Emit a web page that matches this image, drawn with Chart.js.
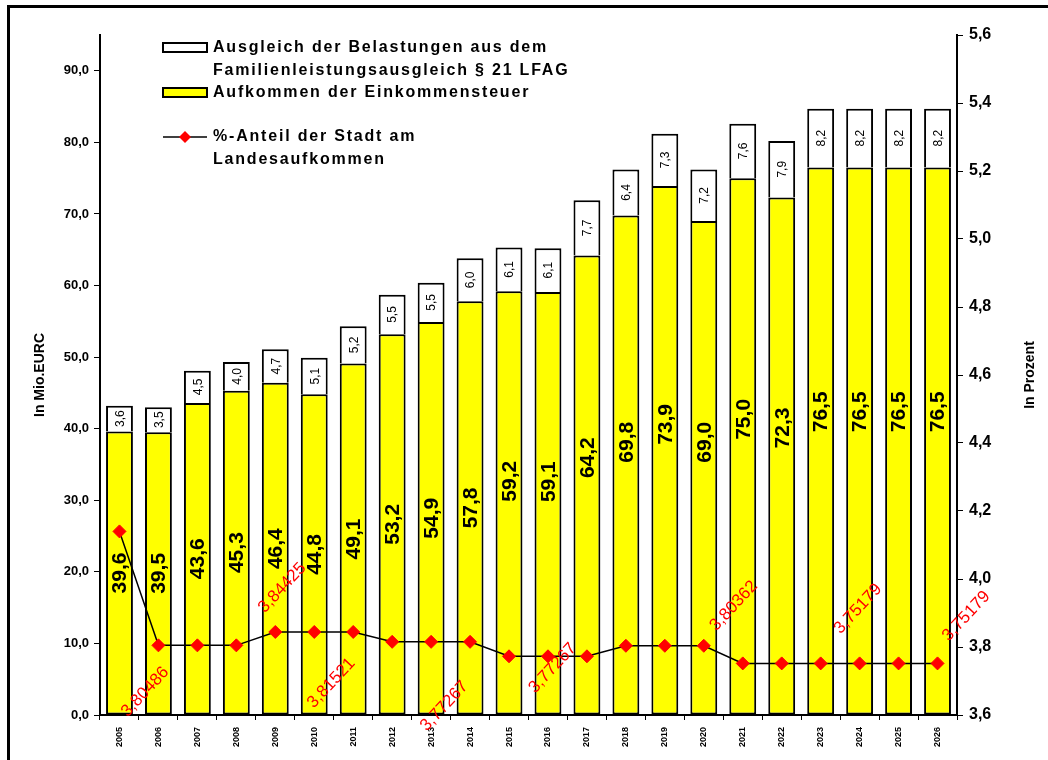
<!DOCTYPE html>
<html>
<head>
<meta charset="utf-8">
<script src="https://cdn.jsdelivr.net/npm/chart.js@4.4.0/dist/chart.umd.min.js"></script>
<style>
html,body{margin:0;padding:0;background:#fff;}
#wrap{width:1048px;height:760px;position:relative;}
</style>
</head>
<body>
<div id="wrap"><canvas id="c" width="1048" height="760"></canvas></div>
<script>
// ---- data ----
const years = ['2005','2006','2007','2008','2009','2010','2011','2012','2013','2014','2015',
               '2016','2017','2018','2019','2020','2021','2022','2023','2024','2025','2026'];
const einkommensteuer = [39.6,39.5,43.6,45.3,46.4,44.8,49.1,53.2,54.9,57.8,59.2,
                         59.1,64.2,69.8,73.9,69.0,75.0,72.3,76.5,76.5,76.5,76.5];
const ausgleich = [3.6,3.5,4.5,4.0,4.7,5.1,5.2,5.5,5.5,6.0,6.1,
                   6.1,7.7,6.4,7.3,7.2,7.6,7.9,8.2,8.2,8.2,8.2];
const anteilProzent = [4.14,3.80486,3.80486,3.80486,3.84425,3.84425,3.84425,3.81521,3.81521,3.81521,3.77267,
                       3.77267,3.77267,3.80362,3.80362,3.80362,3.75179,3.75179,3.75179,3.75179,3.75179,3.75179];
// from this year on, the original centres the yellow value label on half of the whole bar
const firstPlanYear = '2015';

const legendAusgleich = ['Ausgleich der Belastungen aus dem', 'Familienleistungsausgleich § 21 LFAG'];
const legendEinkommen = ['Aufkommen der Einkommensteuer'];
const legendAnteil = ['%-Anteil der Stadt am', 'Landesaufkommen'];
const titleLeft = 'In Mio.EURC';
const titleRight = 'In Prozent';

// red percentage labels as placed in the original (category position, value on percent axis)
const pctLabelText = ['3,80486','3,84425','3,81521','3,77267','3,77267','3,80362','3,75179','3,75179'];
const pctLabelCat  = [0.66, 4.18, 5.44, 8.34, 11.12, 15.77, 18.96, 21.74];
const pctLabelVal  = [3.668, 3.974, 3.694, 3.626, 3.738, 3.921, 3.912, 3.891];

// ---- helpers ----
const FONT = "'Liberation Sans', Arial, sans-serif";
const fmt1 = v => Number(v).toFixed(1).replace('.', ',');

const bgPlugin = {
  id: 'bg',
  beforeDraw(chart) {
    const ctx = chart.ctx;
    ctx.save();
    ctx.fillStyle = '#fff';
    ctx.fillRect(0, 0, chart.width, chart.height);
    ctx.restore();
  },
  afterDraw(chart) {
    const ctx = chart.ctx;
    ctx.save();
    ctx.strokeStyle = '#000';
    ctx.lineWidth = 3;
    ctx.strokeRect(8.5, 6.5, 1200, 1200);
    ctx.restore();
  }
};

const labelPlugin = {
  id: 'labels',
  afterDatasetsDraw(chart) {
    const ctx = chart.ctx;
    const ysc = chart.scales.y;
    const planIdx = years.indexOf(firstPlanYear);
    ctx.save();
    // bar value labels
    [[0, 'bold 21px ' + FONT], [1, '12px ' + FONT]].forEach(([di, font]) => {
      const meta = chart.getDatasetMeta(di);
      const data = chart.data.datasets[di].data;
      meta.data.forEach((bar, i) => {
        const p = bar.getProps(['x', 'y', 'base'], true);
        let cy = (p.y + p.base) / 2;
        if (di === 0 && i >= planIdx) {
          cy = ysc.getPixelForValue((einkommensteuer[i] + ausgleich[i]) / 2);
        }
        ctx.save();
        ctx.translate(p.x, cy);
        ctx.rotate(-Math.PI / 2);
        ctx.font = font;
        ctx.fillStyle = '#000';
        ctx.textAlign = 'center';
        ctx.textBaseline = 'middle';
        ctx.fillText(fmt1(data[i]), 0, 1);
        ctx.restore();
      });
    });
    // red percent labels
    const xs = chart.scales.x, ys = chart.scales.y1;
    pctLabelText.forEach((t, i) => {
      const px = xs.getPixelForValue(pctLabelCat[i]);
      const py = ys.getPixelForValue(pctLabelVal[i]);
      ctx.save();
      ctx.translate(px, py);
      ctx.rotate(-47 * Math.PI / 180);
      ctx.font = '17px ' + FONT;
      ctx.fillStyle = '#ff0000';
      ctx.textAlign = 'center';
      ctx.textBaseline = 'middle';
      ctx.fillText(t, 0, 0);
      ctx.restore();
    });
    ctx.restore();
  },
  afterDraw(chart) {
    const ctx = chart.ctx;
    const a = chart.chartArea;
    ctx.save();
    // axis titles
    ctx.font = 'bold 14px ' + FONT;
    ctx.fillStyle = '#000';
    ctx.textAlign = 'center';
    ctx.textBaseline = 'middle';
    const my = (a.top + a.bottom) / 2;
    [[40, titleLeft], [1030, titleRight]].forEach(([x, t]) => {
      ctx.save();
      ctx.translate(x, my);
      ctx.rotate(-Math.PI / 2);
      ctx.fillText(t, 0, 0);
      ctx.restore();
    });
    // legend
    const lx = a.left + 63, tx = a.left + 113;
    ctx.lineWidth = 2;
    ctx.strokeStyle = '#000';
    ctx.fillStyle = '#fff';
    ctx.fillRect(lx, 43, 44, 9); ctx.strokeRect(lx, 43, 44, 9);
    ctx.fillStyle = '#ffff00';
    ctx.fillRect(lx, 88, 44, 9); ctx.strokeRect(lx, 88, 44, 9);
    ctx.lineWidth = 1.5;
    ctx.beginPath(); ctx.moveTo(lx, 137); ctx.lineTo(lx + 44, 137); ctx.stroke();
    ctx.fillStyle = '#ff0000';
    ctx.beginPath();
    ctx.moveTo(lx + 22, 131); ctx.lineTo(lx + 28, 137); ctx.lineTo(lx + 22, 143); ctx.lineTo(lx + 16, 137);
    ctx.closePath(); ctx.fill();
    ctx.font = 'bold 16px ' + FONT;
    ctx.textAlign = 'left';
    ctx.letterSpacing = '1.8px';
    ctx.fillStyle = '#000';
    legendAusgleich.forEach((t, i) => ctx.fillText(t, tx, 48 + i * 23));
    legendEinkommen.forEach((t, i) => ctx.fillText(t, tx, 93 + i * 23));
    legendAnteil.forEach((t, i) => ctx.fillText(t, tx, 137 + i * 23));
    ctx.restore();
  }
};

new Chart(document.getElementById('c'), {
  type: 'bar',
  data: {
    labels: years,
    datasets: [
      {
        label: legendEinkommen.join(' '),
        data: einkommensteuer,
        backgroundColor: '#ffff00',
        borderColor: '#000',
        borderWidth: 2,
        borderSkipped: false,
        barPercentage: 0.69,
        categoryPercentage: 1,
        yAxisID: 'y',
        order: 2
      },
      {
        label: legendAusgleich.join(' '),
        data: ausgleich,
        backgroundColor: '#ffffff',
        borderColor: '#000',
        borderWidth: 2,
        borderSkipped: 'bottom',
        barPercentage: 0.69,
        categoryPercentage: 1,
        yAxisID: 'y',
        order: 2
      },
      {
        type: 'line',
        label: legendAnteil.join(' '),
        data: anteilProzent,
        yAxisID: 'y1',
        borderColor: '#000',
        borderWidth: 1.5,
        pointStyle: 'rectRot',
        pointRadius: 6.5,
        pointBackgroundColor: '#ff0000',
        pointBorderColor: '#ff0000',
        pointBorderWidth: 1,
        tension: 0,
        fill: false,
        order: 0
      }
    ]
  },
  options: {
    responsive: false,
    animation: false,
    layout: { padding: { left: 8, top: 35, right: 0, bottom: 0 } },
    plugins: { legend: { display: false }, tooltip: { enabled: false } },
    scales: {
      x: {
        stacked: true,
        offset: true,
        grid: { offset: true, drawOnChartArea: false, color: '#000', tickLength: 5, lineWidth: 1 },
        border: { color: '#000', width: 2 },
        ticks: { minRotation: 90, maxRotation: 90, autoSkip: false, color: '#000',
                 font: { family: FONT, size: 9, weight: 'bold' }, padding: 7 },
        afterFit(s) { s.height = 45; }
      },
      y: {
        stacked: true,
        position: 'left',
        min: 0, max: 95,
        ticks: { stepSize: 10, callback: v => fmt1(v), color: '#000',
                 font: { family: FONT, size: 13, weight: 'bold' }, padding: 5 },
        afterBuildTicks(s) { s.ticks = s.ticks.filter(t => t.value % 10 === 0); },
        grid: { drawOnChartArea: false, color: '#000', tickLength: 6 },
        border: { color: '#000', width: 2 },
        afterFit(s) { s.width = 92; }
      },
      y1: {
        position: 'right',
        min: 3.6, max: 5.6,
        ticks: { stepSize: 0.2, callback: v => fmt1(v), color: '#000',
                 font: { family: FONT, size: 16, weight: 'bold' }, padding: 6 },
        grid: { drawOnChartArea: false, color: '#000', tickLength: 6 },
        border: { color: '#000', width: 2 },
        afterFit(s) { s.width = 91; }
      }
    }
  },
  plugins: [bgPlugin, labelPlugin]
});
</script>
</body>
</html>
